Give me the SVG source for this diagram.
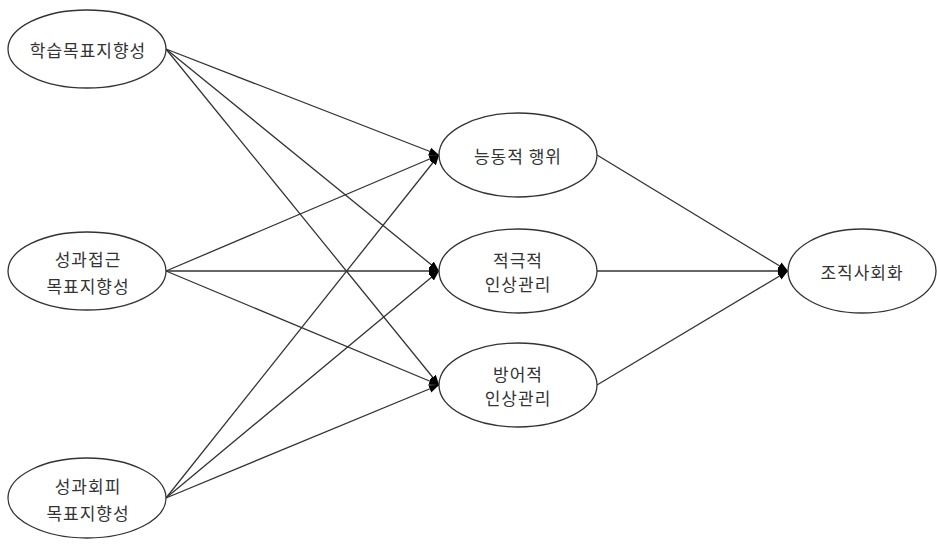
<svg xmlns="http://www.w3.org/2000/svg" width="937" height="545" viewBox="0 0 937 545">
<style>
.n{fill:#fff;stroke:#333;stroke-width:1.3}
.t{font-family:"Noto Sans CJK KR","Noto Sans",sans-serif;font-size:17px;fill:#333;text-anchor:middle;dominant-baseline:central;letter-spacing:1px}
.e{stroke:#333;stroke-width:1.3;fill:none;marker-end:url(#a)}
</style>
<defs>
<marker id="a" viewBox="0 0 10 10" refX="10" refY="5" markerWidth="10" markerHeight="10" markerUnits="userSpaceOnUse" orient="auto">
<path d="M0,1 L10,5 L0,9 Z" fill="#000"/>
</marker>
</defs>
<rect width="937" height="545" fill="#fff"/>
<g id="edges">
<line class="e" x1="166" y1="49" x2="439" y2="155"/>
<line class="e" x1="166" y1="49" x2="439" y2="271"/>
<line class="e" x1="166" y1="49" x2="439" y2="385"/>
<line class="e" x1="166" y1="271" x2="439" y2="155"/>
<line class="e" x1="166" y1="271" x2="439" y2="271"/>
<line class="e" x1="166" y1="271" x2="439" y2="385"/>
<line class="e" x1="166" y1="498" x2="439" y2="155"/>
<line class="e" x1="166" y1="498" x2="439" y2="271"/>
<line class="e" x1="166" y1="498" x2="439" y2="385"/>
<line class="e" x1="597" y1="155" x2="788" y2="271"/>
<line class="e" x1="597" y1="271" x2="788" y2="271"/>
<line class="e" x1="597" y1="385" x2="788" y2="271"/>
</g>
<g id="n1"><ellipse class="n" cx="87" cy="49" rx="79" ry="39"/><text class="t" x="88" y="49">학습목표지향성</text></g>
<g id="n2"><ellipse class="n" cx="87" cy="271" rx="79" ry="39"/><text class="t" x="88" y="258">성과접근</text><text class="t" x="88" y="285">목표지향성</text></g>
<g id="n3"><ellipse class="n" cx="87" cy="498" rx="79" ry="40"/><text class="t" x="88" y="485">성과회피</text><text class="t" x="88" y="512">목표지향성</text></g>
<g id="m1"><ellipse class="n" cx="518" cy="155" rx="79" ry="42"/><text class="t" x="518" y="155">능동적 행위</text></g>
<g id="m2"><ellipse class="n" cx="518" cy="271" rx="79" ry="42"/><text class="t" x="518" y="259">적극적</text><text class="t" x="518" y="283">인상관리</text></g>
<g id="m3"><ellipse class="n" cx="518" cy="385" rx="79" ry="42"/><text class="t" x="518" y="373">방어적</text><text class="t" x="518" y="397">인상관리</text></g>
<g id="r"><ellipse class="n" cx="862" cy="271" rx="74" ry="42"/><text class="t" x="862" y="271">조직사회화</text></g>
</svg>
